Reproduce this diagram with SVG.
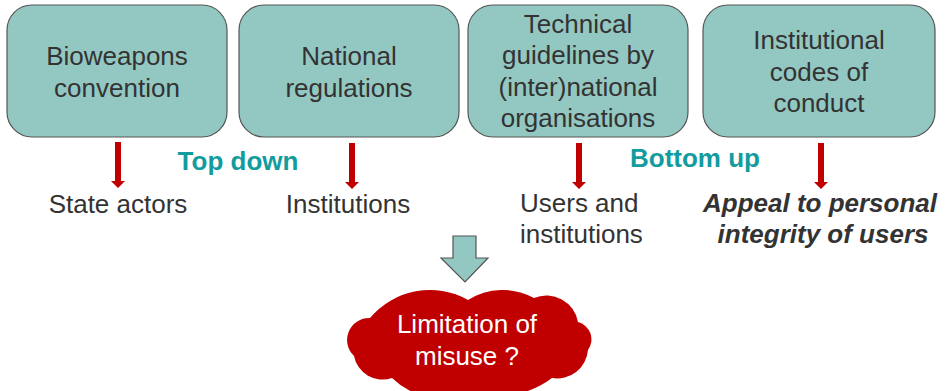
<svg xmlns="http://www.w3.org/2000/svg" width="945" height="391" viewBox="0 0 945 391">
<defs>
<style>
.box{fill:#93C8C2;stroke:#555;stroke-width:1.2}
.t{font-family:"Liberation Sans",Arial,sans-serif;font-size:26px;fill:#333;text-anchor:middle}
.lab{font-family:"Liberation Sans",Arial,sans-serif;font-size:26px;fill:#333}
.bi{font-weight:bold;font-style:italic}
.hd{font-family:"Liberation Sans",Arial,sans-serif;font-size:26px;font-weight:bold;fill:#129C9E;text-anchor:middle}
.red{fill:#C00000}
.wt{font-family:"Liberation Sans",Arial,sans-serif;font-size:26px;fill:#fff;text-anchor:middle}
</style>
<g id="redArrow"><polygon class="red" points="-3,0 3,0 3,39 7,39 0,46 -7,39 -3,39"/></g>
</defs>
<rect width="945" height="391" fill="#fff"/>
<g id="node-bioweapons"><rect class="box" x="7" y="5" width="220" height="132" rx="25"/>
<text class="t" x="117" y="65">Bioweapons</text><text class="t" x="117" y="97">convention</text></g>
<g id="node-national"><rect class="box" x="239" y="5" width="220" height="132" rx="25"/>
<text class="t" x="349" y="65">National</text><text class="t" x="349" y="97">regulations</text></g>
<g id="node-technical"><rect class="box" x="468" y="5" width="220" height="132" rx="25"/>
<text class="t" x="578" y="33">Technical</text><text class="t" x="578" y="64">guidelines by</text><text class="t" x="578" y="96">(inter)national</text><text class="t" x="578" y="127">organisations</text></g>
<g id="node-codes"><rect class="box" x="703" y="5" width="232" height="132" rx="25"/>
<text class="t" x="819" y="49">Institutional</text><text class="t" x="819" y="81">codes of</text><text class="t" x="819" y="112">conduct</text></g>
<g id="connectors">
<use href="#redArrow" x="118" y="142"/>
<use href="#redArrow" x="352" y="143"/>
<use href="#redArrow" x="579" y="143"/>
<use href="#redArrow" x="821" y="143"/>
<polygon points="453,236 476,236 476,258 488,258 465,282 441,258 453,258" fill="#93C8C2" stroke="#555" stroke-width="1.2"/>
</g>
<g id="labels">
<text class="hd" x="238" y="170">Top down</text>
<text class="hd" x="695" y="167">Bottom up</text>
<text class="lab" x="118" y="213" text-anchor="middle">State actors</text>
<text class="lab" x="348" y="213" text-anchor="middle">Institutions</text>
<text class="lab" x="520" y="212">Users and</text>
<text class="lab" x="520" y="243">institutions</text>
<text class="lab bi" x="820" y="212" text-anchor="middle">Appeal to personal</text>
<text class="lab bi" x="823" y="243" text-anchor="middle">integrity of users</text>
</g>
<g id="node-cloud">
<path class="red" d="M370 318 A78 78 0 0 1 468 300 A65 65 0 0 1 534 298 A32 32 0 0 1 578 322 A18 18 0 0 1 588 350 A31 31 0 0 1 552 378 A91 91 0 0 1 470 392 A71 71 0 0 1 392 378 A29 29 0 0 1 354 356 A22 22 0 0 1 370 318 Z"/>
<text class="wt" x="467" y="333">Limitation of</text>
<text class="wt" x="467" y="365">misuse ?</text>
</g>
</svg>
